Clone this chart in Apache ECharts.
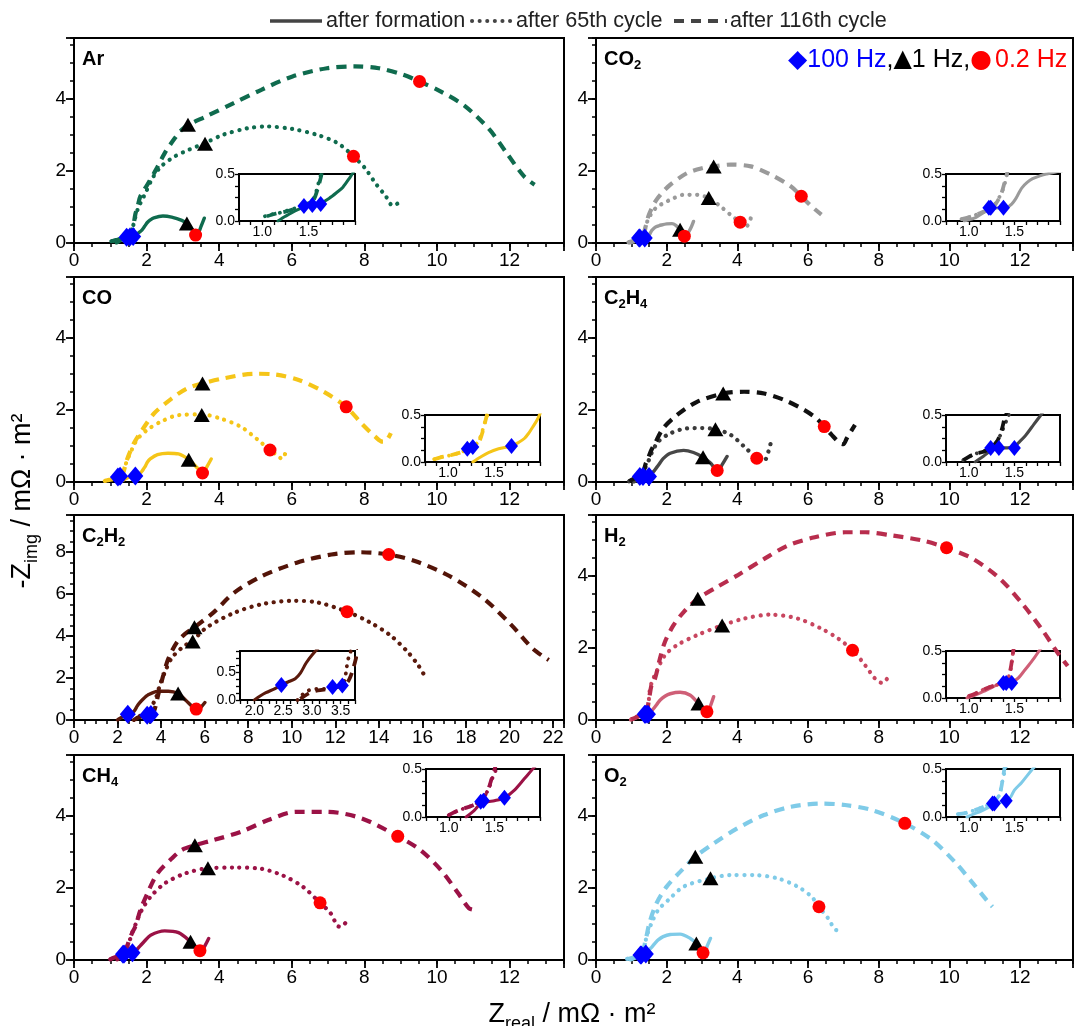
<!DOCTYPE html>
<html><head><meta charset="utf-8">
<script src="https://cdn.jsdelivr.net/npm/echarts@6/dist/echarts.min.js"></script>
<style>html,body{margin:0;padding:0;background:#fff}#c{width:1076px;height:1026px}</style>
</head><body><div id="c"></div>
<script>
const FONT = '"Liberation Sans", Arial, Helvetica, sans-serif';

// ---------------- DATA ----------------
// Ar
const arFormation = [[1.17,0],[1.25,0.05],[1.32,0.09],[1.43,0.14],[1.54,0.17],[1.63,0.19],[1.72,0.24],[1.8,0.3],[1.87,0.36],[1.95,0.47],[2.02,0.57],[2.1,0.64],[2.2,0.7],[2.45,0.75],[2.69,0.72],[2.97,0.63],[3.11,0.54],[3.26,0.37],[3.36,0.23],[3.43,0.28],[3.5,0.46],[3.59,0.69]];
const ar65th = [[1.03,0.05],[1.1,0.07],[1.2,0.09],[1.3,0.12],[1.4,0.15],[1.5,0.19],[1.56,0.25],[1.6,0.38],[1.64,0.52],[1.69,0.72],[1.76,0.95],[1.85,1.15],[1.97,1.39],[2.16,1.8],[2.4,2.13],[2.78,2.41],[3.16,2.59],[3.61,2.78],[4.11,3.01],[4.78,3.19],[5.3,3.24],[6.02,3.17],[6.69,3.01],[7.26,2.78],[7.7,2.41],[8.02,2.08],[8.3,1.67],[8.59,1.3],[8.78,1.04],[8.97,1.13]];
const ar116th = [[1.05,0.05],[1.15,0.08],[1.25,0.1],[1.35,0.13],[1.45,0.16],[1.55,0.22],[1.6,0.35],[1.64,0.5],[1.69,0.8],[1.76,1.05],[1.83,1.3],[2.02,1.62],[2.26,2.04],[2.5,2.5],[2.78,2.92],[2.97,3.15],[3.16,3.29],[3.64,3.52],[4.4,3.89],[5.16,4.26],[6.02,4.63],[6.97,4.86],[7.73,4.91],[8.4,4.86],[9.07,4.68],[9.52,4.49],[10.11,4.21],[10.78,3.8],[11.45,3.15],[11.92,2.5],[12.4,1.85],[12.69,1.62]];
const ar100Hz = [[1.63,0.18],[1.54,0.17],[1.45,0.16]];
const ar1Hz = [[3.11,0.54],[3.61,2.76],[3.14,3.29]];
const ar02Hz = [[3.35,0.22],[7.7,2.41],[9.52,4.49]];
// CO2
const co2Formation = [[0.95,0],[1.06,0.03],[1.13,0.07],[1.2,0.11],[1.26,0.13],[1.34,0.14],[1.41,0.14],[1.47,0.18],[1.51,0.23],[1.55,0.3],[1.58,0.35],[1.64,0.41],[1.7,0.45],[1.78,0.48],[1.85,0.5],[2.0,0.53],[2.15,0.54],[2.26,0.49],[2.38,0.37],[2.45,0.26],[2.5,0.2],[2.56,0.22],[2.62,0.3],[2.7,0.45],[2.76,0.6]];
const co265th = [[0.92,0.02],[1.0,0.04],[1.06,0.06],[1.14,0.09],[1.21,0.12],[1.27,0.16],[1.32,0.23],[1.36,0.3],[1.39,0.38],[1.42,0.5],[1.46,0.62],[1.52,0.74],[1.62,0.9],[1.76,1.02],[1.93,1.12],[2.1,1.2],[2.48,1.34],[2.86,1.34],[3.19,1.25],[3.52,1.02],[3.86,0.74],[4.08,0.58],[4.22,0.46],[4.3,0.5],[4.38,0.69]];
const co2116th = [[0.92,0.02],[1.0,0.04],[1.06,0.06],[1.14,0.09],[1.21,0.12],[1.27,0.15],[1.32,0.22],[1.36,0.3],[1.4,0.44],[1.44,0.58],[1.48,0.74],[1.58,0.97],[1.71,1.2],[1.9,1.43],[2.1,1.62],[2.57,1.94],[3.0,2.08],[3.33,2.13],[3.81,2.18],[4.38,2.13],[4.95,1.9],[5.52,1.57],[5.81,1.3],[6.1,1.02],[6.38,0.79]];
const co2100Hz = [[1.38,0.14],[1.24,0.14],[1.22,0.14]];
const co21Hz = [[2.38,0.37],[3.19,1.25],[3.33,2.13]];
const co202Hz = [[2.5,0.19],[4.08,0.58],[5.81,1.3]];
// CO
const coFormation = [[1.27,0],[1.35,0.05],[1.44,0.1],[1.55,0.14],[1.69,0.17],[1.77,0.21],[1.83,0.25],[1.88,0.31],[1.92,0.37],[1.97,0.45],[2.02,0.55],[2.1,0.64],[2.3,0.76],[2.59,0.8],[2.88,0.78],[3.16,0.62],[3.4,0.39],[3.52,0.26],[3.58,0.28],[3.66,0.42],[3.78,0.64]];
const co65th = [[0.85,0.03],[0.92,0.05],[1.02,0.07],[1.13,0.1],[1.27,0.16],[1.33,0.22],[1.37,0.32],[1.41,0.45],[1.47,0.62],[1.55,0.8],[1.73,1.17],[2.02,1.45],[2.4,1.68],[2.88,1.86],[3.52,1.88],[4.02,1.77],[4.59,1.54],[5.07,1.17],[5.4,0.89],[5.64,0.71],[5.73,0.64],[5.83,0.82]];
const co116th = [[0.85,0.03],[0.92,0.05],[1.02,0.07],[1.13,0.1],[1.27,0.15],[1.33,0.2],[1.37,0.3],[1.41,0.45],[1.46,0.62],[1.55,0.85],[1.65,1.08],[1.88,1.45],[2.21,1.91],[2.69,2.32],[3.11,2.6],[3.54,2.74],[4.11,2.88],[4.97,3.01],[5.54,2.99],[6.21,2.83],[6.88,2.51],[7.5,2.09],[7.92,1.63],[8.3,1.26],[8.5,1.12],[8.6,1.14],[8.73,1.36]];
const co100Hz = [[1.69,0.17],[1.27,0.16],[1.21,0.14]];
const co1Hz = [[3.16,0.62],[3.52,1.86],[3.54,2.74]];
const co02Hz = [[3.54,0.25],[5.4,0.89],[7.5,2.09]];
// C2H4
const c2h4Formation = [[1.07,0],[1.16,0.06],[1.24,0.12],[1.33,0.15],[1.42,0.15],[1.5,0.16],[1.54,0.2],[1.62,0.28],[1.69,0.37],[1.79,0.5],[1.9,0.65],[2.1,0.8],[2.48,0.88],[2.76,0.82],[3.03,0.69],[3.24,0.53],[3.43,0.32],[3.5,0.36],[3.57,0.48],[3.71,0.71]];
const c2h465th = [[0.94,0.02],[1.05,0.08],[1.16,0.11],[1.24,0.15],[1.31,0.22],[1.37,0.34],[1.43,0.48],[1.5,0.62],[1.57,0.8],[1.76,1.12],[2.1,1.35],[2.57,1.49],[3.0,1.5],[3.38,1.47],[3.81,1.31],[4.19,0.99],[4.55,0.66],[4.7,0.57],[4.8,0.62],[4.95,1.1]];
const c2h4116th = [[0.94,0.02],[1.05,0.08],[1.16,0.11],[1.24,0.15],[1.31,0.22],[1.36,0.34],[1.4,0.49],[1.46,0.62],[1.55,0.85],[1.67,1.08],[1.9,1.49],[2.29,1.86],[2.86,2.23],[3.6,2.46],[4.19,2.51],[4.76,2.46],[5.33,2.28],[5.9,2.0],[6.24,1.77],[6.46,1.54],[6.67,1.31],[6.9,1.08],[7.0,1.05],[7.1,1.22],[7.33,1.59]];
const c2h4100Hz = [[1.5,0.15],[1.33,0.15],[1.24,0.15]];
const c2h41Hz = [[3.03,0.69],[3.38,1.47],[3.6,2.46]];
const c2h402Hz = [[3.43,0.32],[4.55,0.66],[6.46,1.54]];
// C2H2
const c2h2Formation = [[2.0,0],[2.1,0.07],[2.2,0.13],[2.35,0.2],[2.47,0.27],[2.6,0.33],[2.71,0.38],[2.8,0.48],[2.9,0.66],[3.0,0.8],[3.2,1.02],[3.38,1.18],[3.86,1.37],[4.33,1.37],[4.78,1.26],[5.13,0.94],[5.45,0.62],[5.61,0.52],[5.75,0.55],[5.85,0.63],[6.01,0.83]];
const c2h265th = [[2.75,0],[2.82,0.08],[2.92,0.16],[3.05,0.2],[3.2,0.2],[3.36,0.22],[3.5,0.26],[3.57,0.35],[3.6,0.55],[3.65,0.8],[3.78,1.1],[3.94,1.65],[4.18,2.3],[4.49,2.95],[4.97,3.45],[5.45,3.78],[6.09,4.4],[7.36,5.1],[8.64,5.51],[10.07,5.67],[11.19,5.59],[12.54,5.15],[13.58,4.65],[14.53,4.02],[15.33,3.23],[15.81,2.6],[16.13,2.05]];
const c2h2116th = [[2.8,0.02],[2.95,0.12],[3.1,0.17],[3.3,0.2],[3.5,0.25],[3.62,0.32],[3.7,0.5],[3.78,0.8],[3.86,1.18],[3.98,1.65],[4.1,2.13],[4.33,2.91],[4.73,3.7],[5.1,4.1],[5.53,4.41],[6.41,5.12],[7.36,6.06],[8.64,6.85],[10.23,7.48],[11.82,7.87],[13.1,7.98],[14.45,7.87],[15.65,7.56],[17.24,6.85],[18.84,5.75],[20.11,4.49],[21.07,3.39],[21.8,2.85]];
const c2h2100Hz = [[2.47,0.27],[3.36,0.23],[3.53,0.26]];
const c2h21Hz = [[4.78,1.26],[5.45,3.73],[5.53,4.41]];
const c2h202Hz = [[5.61,0.52],[12.54,5.15],[14.45,7.87]];
// H2
const h2Formation = [[0.98,0],[1.07,0.03],[1.16,0.07],[1.25,0.11],[1.31,0.14],[1.39,0.16],[1.47,0.17],[1.54,0.21],[1.6,0.28],[1.65,0.34],[1.72,0.43],[1.81,0.55],[1.95,0.66],[2.1,0.73],[2.38,0.77],[2.67,0.69],[2.9,0.46],[3.05,0.3],[3.14,0.23],[3.2,0.3],[3.26,0.45],[3.33,0.65]];
const h265th = [[1.0,0.02],[1.08,0.05],[1.16,0.09],[1.24,0.12],[1.31,0.14],[1.38,0.17],[1.43,0.21],[1.46,0.3],[1.48,0.45],[1.5,0.6],[1.53,0.88],[1.6,1.1],[1.71,1.34],[1.95,1.8],[2.29,2.08],[2.86,2.36],[3.57,2.63],[4.19,2.82],[4.95,2.93],[5.71,2.82],[6.38,2.54],[6.86,2.26],[7.26,1.94],[7.62,1.52],[7.9,1.15],[8.1,1.03],[8.24,1.15]];
const h2116th = [[1.0,0.02],[1.08,0.05],[1.16,0.09],[1.24,0.12],[1.31,0.14],[1.38,0.17],[1.43,0.22],[1.46,0.32],[1.48,0.45],[1.52,0.7],[1.58,1.0],[1.67,1.15],[1.81,1.71],[1.95,2.17],[2.19,2.63],[2.48,3.0],[2.88,3.37],[3.43,3.7],[4.0,4.02],[4.76,4.48],[5.43,4.85],[6.19,5.08],[7.05,5.22],[7.62,5.22],[8.38,5.13],[9.24,4.99],[9.92,4.79],[10.67,4.48],[11.43,3.93],[12.1,3.19],[12.67,2.45],[13.05,1.89],[13.35,1.5]];
const h2100Hz = [[1.47,0.16],[1.41,0.16],[1.38,0.16]];
const h21Hz = [[2.9,0.46],[3.57,2.63],[2.88,3.37]];
const h202Hz = [[3.14,0.23],[7.26,1.94],[9.92,4.79]];
// CH4
const ch4Formation = [[1.19,0],[1.28,0.07],[1.35,0.14],[1.43,0.16],[1.5,0.17],[1.61,0.2],[1.72,0.28],[1.83,0.4],[1.94,0.52],[2.11,0.69],[2.5,0.81],[2.88,0.76],[3.21,0.51],[3.35,0.37],[3.47,0.26],[3.55,0.3],[3.62,0.42],[3.71,0.6]];
const ch465th = [[1.0,0.02],[1.06,0.05],[1.17,0.09],[1.26,0.12],[1.35,0.17],[1.43,0.28],[1.48,0.41],[1.52,0.5],[1.6,0.75],[1.7,1.0],[1.8,1.25],[1.9,1.45],[2.11,1.76],[2.5,2.13],[3.07,2.41],[3.69,2.55],[4.4,2.57],[5.07,2.55],[5.73,2.36],[6.3,2.04],[6.78,1.59],[7.07,1.3],[7.3,0.93],[7.4,0.95],[7.5,1.06]];
const ch4116th = [[1.0,0.02],[1.06,0.05],[1.17,0.09],[1.26,0.12],[1.35,0.17],[1.42,0.26],[1.47,0.4],[1.52,0.55],[1.6,0.75],[1.69,0.93],[1.83,1.39],[2.02,1.85],[2.3,2.41],[2.69,2.82],[2.97,3.06],[3.33,3.19],[3.83,3.33],[4.59,3.56],[5.35,3.89],[6.11,4.12],[6.97,4.12],[7.92,3.94],[8.92,3.44],[9.54,3.06],[10.11,2.5],[10.59,1.85],[10.88,1.44],[11.05,1.39]];
const ch4100Hz = [[1.61,0.2],[1.38,0.17],[1.35,0.16]];
const ch41Hz = [[3.21,0.51],[3.69,2.55],[3.33,3.19]];
const ch402Hz = [[3.47,0.26],[6.78,1.59],[8.92,3.44]];
// O2
const o2Formation = [[0.98,0],[1.05,0.03],[1.13,0.06],[1.24,0.11],[1.33,0.15],[1.41,0.17],[1.46,0.21],[1.5,0.28],[1.58,0.36],[1.69,0.49],[1.76,0.56],[1.9,0.65],[2.1,0.71],[2.38,0.72],[2.67,0.6],[2.84,0.46],[2.95,0.3],[3.03,0.2],[3.1,0.28],[3.16,0.42],[3.24,0.6]];
const o265th = [[0.88,0.03],[0.96,0.04],[1.09,0.08],[1.24,0.14],[1.33,0.22],[1.37,0.38],[1.4,0.5],[1.43,0.65],[1.57,1.02],[1.76,1.39],[2.05,1.67],[2.48,2.04],[3.24,2.27],[3.81,2.36],[4.48,2.36],[5.14,2.27],[5.71,2.04],[6.1,1.76],[6.31,1.48],[6.57,1.16],[6.81,0.83],[6.95,0.88]];
const o2116th = [[0.88,0.03],[0.96,0.04],[1.09,0.08],[1.24,0.14],[1.33,0.22],[1.37,0.38],[1.39,0.5],[1.42,0.62],[1.52,1.06],[1.71,1.57],[2.0,2.04],[2.38,2.45],[2.81,2.87],[3.33,3.24],[4.0,3.66],[4.76,4.03],[5.52,4.26],[6.38,4.35],[7.05,4.31],[7.81,4.17],[8.74,3.8],[9.52,3.33],[10.19,2.69],[10.67,2.13],[11.05,1.67],[11.22,1.48]];
const o2100Hz = [[1.41,0.17],[1.28,0.14],[1.26,0.14]];
const o21Hz = [[2.84,0.46],[3.24,2.27],[2.81,2.87]];
const o202Hz = [[3.03,0.2],[6.31,1.48],[8.74,3.8]];

// tick labels
const xTickLabels = [0,2,4,6,8,10,12];
const xTickLabelsC2H2 = [0,2,4,6,8,10,12,14,16,18,20,22];
const yTickLabels = [0,2,4];
const yTickLabelsC2H2 = [0,2,4,6,8];
const insetXTickLabels = [1.0,1.5];
const insetXTickLabelsC2H2 = [2.0,2.5,3.0,3.5];
const insetYTickLabels = [0.0,0.5];

// ---------------- STYLE / LAYOUT ----------------
const arColors = ['#0F6B4E','#0F6B4E','#0F6B4E'];
const co2Colors = ['#9A9A9A','#9A9A9A','#9A9A9A'];
const coColors = ['#F5C518','#F5C518','#F5C518'];
const c2h4Colors = ['#474747','#3A3A3A','#111111'];
const c2h2Colors = ['#5B1A0C','#5B1A0C','#531408'];
const h2Colors = ['#CF5F77','#C8465F','#B82D4D'];
const ch4Colors = ['#9B1246','#9B1246','#9B1246'];
const o2Colors = ['#7FCBE8','#7FCBE8','#7FCBE8'];

const MAIN_W = 490, MAIN_H = 205;
const COLS = [74, 596];
const ROWS = [38, 277, 515, 755];

const panels = [
  {label:[['Ar',0]], curves:[arFormation,ar65th,ar116th], m:[ar100Hz,ar1Hz,ar02Hz], colors:arColors, xMax:13.5, yMax:5.7, xt:xTickLabels, yt:yTickLabels, ix:[0.75,2.0], iy:0.5, ixt:insetXTickLabels, col:0,row:0, inset:{left:239,top:174,width:116,height:47}},
  {label:[['CO',0],['2',1]], curves:[co2Formation,co265th,co2116th], m:[co2100Hz,co21Hz,co202Hz], colors:co2Colors, xMax:13.5, yMax:5.7, xt:xTickLabels, yt:yTickLabels, ix:[0.75,2.0], iy:0.5, ixt:insetXTickLabels, col:1,row:0, inset:{left:946,top:174,width:114,height:47}},
  {label:[['CO',0]], curves:[coFormation,co65th,co116th], m:[co100Hz,co1Hz,co02Hz], colors:coColors, xMax:13.5, yMax:5.7, xt:xTickLabels, yt:yTickLabels, ix:[0.75,2.0], iy:0.5, ixt:insetXTickLabels, col:0,row:1, inset:{left:425,top:415,width:115,height:47}},
  {label:[['C',0],['2',1],['H',0],['4',1]], curves:[c2h4Formation,c2h465th,c2h4116th], m:[c2h4100Hz,c2h41Hz,c2h402Hz], colors:c2h4Colors, xMax:13.5, yMax:5.7, xt:xTickLabels, yt:yTickLabels, ix:[0.75,2.0], iy:0.5, ixt:insetXTickLabels, col:1,row:1, inset:{left:946,top:415,width:114,height:47}},
  {label:[['C',0],['2',1],['H',0],['2',1]], curves:[c2h2Formation,c2h265th,c2h2116th], m:[c2h2100Hz,c2h21Hz,c2h202Hz], colors:c2h2Colors, xMax:22.5, yMax:9.75, xt:xTickLabelsC2H2, yt:yTickLabelsC2H2, ix:[1.75,3.75], iy:0.875, ixt:insetXTickLabelsC2H2, col:0,row:2, inset:{left:240,top:651,width:115,height:49}},
  {label:[['H',0],['2',1]], curves:[h2Formation,h265th,h2116th], m:[h2100Hz,h21Hz,h202Hz], colors:h2Colors, xMax:13.5, yMax:5.7, xt:xTickLabels, yt:yTickLabels, ix:[0.75,2.0], iy:0.5, ixt:insetXTickLabels, col:1,row:2, inset:{left:946,top:651,width:114,height:47}},
  {label:[['CH',0],['4',1]], curves:[ch4Formation,ch465th,ch4116th], m:[ch4100Hz,ch41Hz,ch402Hz], colors:ch4Colors, xMax:13.5, yMax:5.7, xt:xTickLabels, yt:yTickLabels, ix:[0.75,2.0], iy:0.5, ixt:insetXTickLabels, col:0,row:3, inset:{left:426,top:769,width:114,height:48}},
  {label:[['O',0],['2',1]], curves:[o2Formation,o265th,o2116th], m:[o2100Hz,o21Hz,o202Hz], colors:o2Colors, xMax:13.5, yMax:5.7, xt:xTickLabels, yt:yTickLabels, ix:[0.75,2.0], iy:0.5, ixt:insetXTickLabels, col:1,row:3, inset:{left:946,top:769,width:114,height:48}}
];

const LINE_STYLES = [
  {type:'solid', width:3.4, cap:'round'},
  {type:[0.1,7.5], width:4.2, cap:'round'},
  {type:[10,7], width:4.2, cap:'butt'}
];

function fmtList(list, digits) {
  return function (v) {
    for (const t of list) if (Math.abs(t - v) < 1e-6) return digits ? v.toFixed(digits) : String(Math.round(v));
    return '';
  };
}

// text with subscripts, built from measured pieces
const mctx = document.createElement('canvas').getContext('2d');
function textWidth(t, size, weight) { mctx.font = weight + ' ' + size + 'px ' + FONT; return mctx.measureText(t).width; }
function subText(parts, main, sub, dy, weight) {
  let x = 0; const kids = [];
  parts.forEach(function (pt) {
    const isSub = pt[1] === 1, size = isSub ? sub : main;
    kids.push({type:'text', x:x, y:isSub ? dy : 0, silent:true,
      style:{text:pt[0], fontSize:size, fontWeight:weight, fontFamily:FONT, fill:'#000', align:'left', verticalAlign:'middle'}});
    x += textWidth(pt[0], size, weight);
  });
  return {kids:kids, width:x};
}

const grids = [], xAxes = [], yAxes = [], series = [], graphics = [];

panels.forEach(function (p) {
  grids.push({left:COLS[p.col], top:ROWS[p.row], width:MAIN_W, height:MAIN_H, show:true, borderColor:'#000', borderWidth:2, backgroundColor:'transparent'});
});
panels.forEach(function (p) {
  grids.push({left:p.inset.left, top:p.inset.top, width:p.inset.width, height:p.inset.height, show:true, borderColor:'#000', borderWidth:2, backgroundColor:'#fff'});
});

function minorAxis(gi, pos, max) {
  return {gridIndex:gi, type:'value', position:pos, min:0, max:max, interval:0.5,
    axisLine:{show:true, onZero:false, lineStyle:{color:'#000', width:2}},
    axisTick:{show:true, length:4, lineStyle:{color:'#000', width:1.5}},
    axisLabel:{show:false}, splitLine:{show:false}};
}
function majorAxis(gi, pos, max, labels) {
  return {gridIndex:gi, type:'value', position:pos, min:0, max:max, interval:2,
    axisLine:{show:false, onZero:false},
    axisTick:{show:true, length:8, lineStyle:{color:'#000', width:1.8}},
    axisLabel:{show:true, formatter:fmtList(labels,0), fontSize:19, fontFamily:FONT, color:'#000', margin:8},
    splitLine:{show:false}};
}
function insetAxis(gi, pos, min, max, labels) {
  return {gridIndex:gi, type:'value', position:pos, min:min, max:max, interval:0.125,
    axisLine:{show:true, onZero:false, lineStyle:{color:'#000', width:2}},
    axisTick:{show:true, length:4, lineStyle:{color:'#000', width:1.3}},
    axisLabel:{show:true, formatter:fmtList(labels,1), fontSize:14, fontFamily:FONT, color:'#000', margin:4},
    splitLine:{show:false}};
}

panels.forEach(function (p, i) {
  xAxes.push(minorAxis(i,'bottom',p.xMax));
  xAxes.push(majorAxis(i,'bottom',p.xMax,p.xt));
  yAxes.push(minorAxis(i,'left',p.yMax));
  yAxes.push(majorAxis(i,'left',p.yMax,p.yt));
});
panels.forEach(function (p, i) {
  xAxes.push(insetAxis(8+i,'bottom',p.ix[0],p.ix[1],p.ixt));
  yAxes.push(insetAxis(8+i,'left',0,p.iy,insetYTickLabels));
});

function scatter(ax, data, symbol, size, color) {
  return {type:'scatter', xAxisIndex:ax, yAxisIndex:ax, data:data, symbol:symbol, symbolSize:size,
    itemStyle:{color:color, opacity:1}, z:5, silent:true, clip:true};
}

panels.forEach(function (p, i) {
  const ma = 2*i, ia = 16+i;
  p.curves.forEach(function (c, k) {
    series.push({type:'line', xAxisIndex:ma, yAxisIndex:ma, data:c, symbol:'none', showSymbol:false, smooth:0.3, clip:true,
      lineStyle:Object.assign({color:p.colors[k]}, LINE_STYLES[k]), z:2, silent:true});
    series.push({type:'line', xAxisIndex:ia, yAxisIndex:ia, data:c, symbol:'none', showSymbol:false, smooth:0.3, clip:true,
      lineStyle:Object.assign({color:p.colors[k]}, LINE_STYLES[k], {width:LINE_STYLES[k].width*0.9}), z:3, silent:true});
  });
  series.push(scatter(ma, p.m[0], 'diamond', [16,19], '#0000FF'));
  series.push(scatter(ma, p.m[1], 'triangle', [16,14], '#000000'));
  series.push(scatter(ma, p.m[2], 'circle', 13, '#FF0000'));
  series.push(scatter(ia, p.m[0], 'diamond', [13,16], '#0000FF'));

  const lab = subText(p.label, 20, 13, 6, 'bold');
  graphics.push({type:'group', x:COLS[p.col]+8, y:ROWS[p.row]+21, z:10, children:lab.kids});
});

// top legend
const legendY = 21;
const LEG_FS = 21.6;
graphics.push({type:'line', shape:{x1:270,y1:legendY,x2:322,y2:legendY}, style:{stroke:'#444', lineWidth:3.5}});
graphics.push({type:'text', x:326, y:legendY, style:{text:'after formation', fontSize:LEG_FS, fontFamily:FONT, fill:'#222', align:'left', verticalAlign:'middle'}});
graphics.push({type:'line', shape:{x1:472,y1:legendY,x2:513,y2:legendY}, style:{stroke:'#444', lineWidth:4, lineDash:[0.1,7.5], lineCap:'round'}});
graphics.push({type:'text', x:516, y:legendY, style:{text:'after 65th cycle', fontSize:LEG_FS, fontFamily:FONT, fill:'#222', align:'left', verticalAlign:'middle'}});
graphics.push({type:'line', shape:{x1:674,y1:legendY,x2:727,y2:legendY}, style:{stroke:'#444', lineWidth:4, lineDash:[10,7]}});
graphics.push({type:'text', x:730, y:legendY, style:{text:'after 116th cycle', fontSize:LEG_FS, fontFamily:FONT, fill:'#222', align:'left', verticalAlign:'middle'}});

// frequency legend
graphics.push({type:'text', x:788, y:60, z:10, style:{text:'{bd|◆}{b|100 Hz}{k|,}{kt|▲}{k|1 Hz,}{rd|●}{r|0.2 Hz}', align:'left', verticalAlign:'middle',
  rich:{bd:{fontSize:25, fill:'#0000FF', fontFamily:'"DejaVu Sans"'},
        b:{fontSize:25, fill:'#0000FF', fontFamily:FONT},
        k:{fontSize:25, fill:'#000', fontFamily:FONT},
        kt:{fontSize:24, fill:'#000', fontFamily:'"DejaVu Sans"'},
        rd:{fontSize:25, fill:'#FF0000', fontFamily:'"DejaVu Sans"', padding:[0,3,0,0]},
        r:{fontSize:25, fill:'#FF0000', fontFamily:FONT}}}});

// axis titles
const yTitle = subText([['-Z',0],['img',1],[' / mΩ · m²',0]], 27, 18, 9, 'normal');
yTitle.kids.forEach(function (k) { k.x -= yTitle.width/2; });
graphics.push({type:'group', x:23, y:501, rotation:Math.PI/2, children:yTitle.kids});
const xTitle = subText([['Z',0],['real',1],[' / mΩ · m²',0]], 27, 18, 9, 'normal');
graphics.push({type:'group', x:572 - xTitle.width/2, y:1015, children:xTitle.kids});

const chart = echarts.init(document.getElementById('c'), null, {renderer:'canvas'});
chart.setOption({
  animation:false,
  backgroundColor:'#fff',
  textStyle:{fontFamily:FONT},
  grid:grids, xAxis:xAxes, yAxis:yAxes, series:series, graphic:graphics
});
</script></body></html>
